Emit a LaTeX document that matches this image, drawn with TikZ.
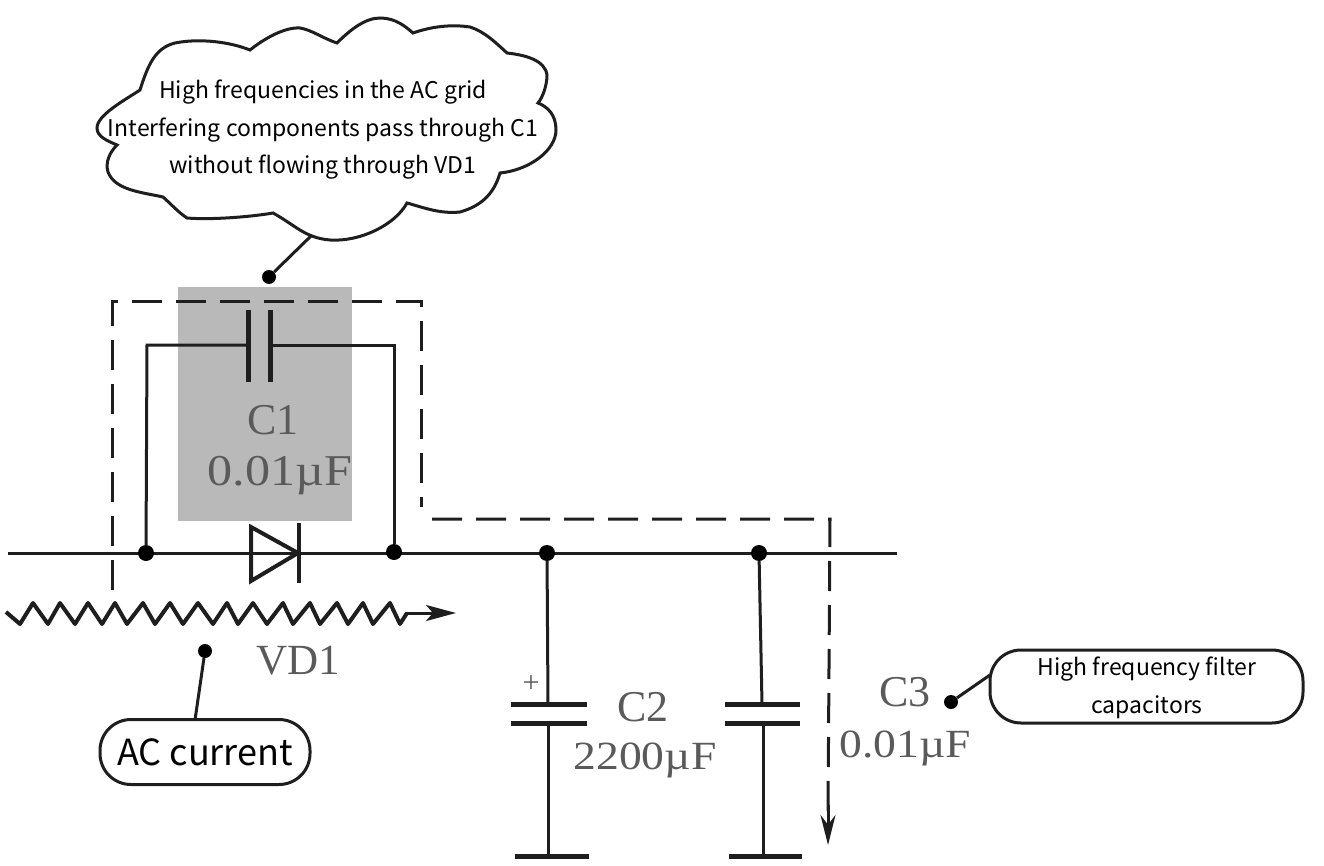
\documentclass[tikz,border=0pt]{standalone}
\usepackage{fontspec}
\setmainfont{Noto Sans CJK SC}
\newfontfamily\circfont{Liberation Serif}
\newfontfamily\circwide[FakeStretch=1.14]{Liberation Serif}
\usetikzlibrary{arrows.meta}
\definecolor{labelgray}{HTML}{5A5A5A}
\definecolor{shadegray}{HTML}{B9B9B9}
\definecolor{ink}{HTML}{1E1E1E}
\tikzset{
  wire/.style={draw=ink,line width=3pt},
  plate/.style={draw=ink,line width=5pt},
  junction/.style={circle,fill=black,inner sep=0pt,minimum size=16pt},
  smalldot/.style={circle,fill=black,inner sep=0pt,minimum size=14pt},
  leader/.style={draw=ink,line width=3pt},
  calloutbox/.style={draw=ink,line width=3pt,rounded corners=31pt,inner sep=0pt,align=center},
  circlabel/.style={text=labelgray,inner sep=0pt},
  route/.style={draw=ink,line width=3pt,dash pattern=on 30pt off 14pt},
  note/.style={font=\fontsize{23}{37.5}\selectfont,align=center,inner sep=0pt}
}
\newcommand{\lblsize}[1]{\circfont\fontsize{#1}{#1}\selectfont}
\newcommand{\valsize}[1]{\circwide\fontsize{#1}{#1}\selectfont}
\begin{document}
\begin{tikzpicture}[x=1pt,y=-1pt]
\useasboundingbox (0,0) rectangle (1324,866);
% shaded C1 area
\fill[shadegray] (178,287) rectangle (352,521);
% cloud
\draw[draw=ink,line width=3pt]
 (117,145) .. controls (108,141) and (97,137) .. (97,128)
 .. controls (97,115) and (125,100) .. (140,90)
 .. controls (148,65) and (155,48) .. (175,43)
 .. controls (200,38) and (230,42) .. (250,50)
 .. controls (265,38) and (285,27) .. (300,28)
 .. controls (312,30) and (322,38) .. (337,43)
 .. controls (350,30) and (365,18) .. (380,18)
 .. controls (395,18) and (405,26) .. (413,33)
 .. controls (430,27) and (450,24) .. (470,27)
 .. controls (485,32) and (495,42) .. (507,53)
 .. controls (525,55) and (545,60) .. (547,75)
 .. controls (547,85) and (543,97) .. (538,103)
 .. controls (548,107) and (556,115) .. (556,130)
 .. controls (556,150) and (530,170) .. (500,173)
 .. controls (495,190) and (485,205) .. (460,212)
 .. controls (440,214) and (425,208) .. (407,203)
 .. controls (395,225) and (360,242) .. (330,240)
 .. controls (305,238) and (295,225) .. (273,213)
 .. controls (250,217) and (210,220) .. (187,218)
 .. controls (178,212) and (172,205) .. (163,197)
 .. controls (140,192) and (115,190) .. (108,172)
 .. controls (105,162) and (110,152) .. (117,145) -- cycle;
\node[note] (cloudtext) at (323,130) {High frequencies in the AC grid\\Interfering components pass through C1\\without flowing through VD1};
\coordinate (cloudtail) at (312,235);
\node[smalldot] (clouddot) at (269,277) {};
\draw[leader] (cloudtail) -- (clouddot);
% dashed current route
\coordinate (routestart) at (112,590);
\coordinate (routeend) at (828,845);
\draw[route] (routestart) -- (112,302) -- (421,302) -- (421,507);
\draw[route] (432,519) -- (830,519) -- (828,815);
\draw[draw=ink,line width=3pt,-{Stealth[length=30pt,width=15pt]}] (828,805) -- (routeend);
% main wire
\coordinate (wireL) at (8,553);
\coordinate (wireR) at (897,553);
\draw[wire] (wireL) -- (wireR);
\node[junction] (j1) at (146,553) {};
\node[junction] (j2) at (394,552) {};
\node[junction] (j3) at (547,553) {};
\node[junction] (j4) at (759,553) {};
% C1
\coordinate (c1a) at (248,345);
\coordinate (c1b) at (270,345);
\draw[wire] (j1) -- (147,345) -- (c1a);
\draw[wire] (c1b) -- (394,345) -- (j2);
\draw[plate] (248,310) -- (248,382);
\draw[plate] (270,310) -- (270,382);
\node[circlabel,font=\lblsize{44}] (c1name) at (273,420) {C1};
\node[circlabel,font=\valsize{44}] (c1val) at (280,476) {0.01µF};
% diode
\draw[draw=ink,line width=4pt,line join=miter] (251,527) -- (251,581) -- (298,553) -- cycle;
\draw[draw=ink,line width=4pt] (299,523) -- (299,583);
\node[circlabel,font=\lblsize{43}] (vd1) at (298,661) {VD1};
% AC zigzag
\coordinate (zigstart) at (6,612);
\coordinate (zigend) at (456,613);
\draw[draw=ink,line width=4pt,line join=round] (zigstart) -- (20,624) -- (33,603) -- (48,624) -- (60,603) -- (75,624) -- (88,603) -- (102,624) -- (115,603) -- (127,624) -- (143,603) -- (155,624) -- (170,603) -- (183,624) -- (198,603) -- (213,624) -- (227,603) -- (238,624) -- (253,603) -- (267,624) -- (283,603) -- (293,624) -- (310,603) -- (320,624) -- (337,603) -- (348,624) -- (363,603) -- (373,624) -- (390,603) -- (400,624) -- (407,613);
\draw[draw=ink,line width=3pt,-{Stealth[length=30pt,width=16pt,inset=7pt]}] (405,613) -- (zigend);
% AC current callout
\node[calloutbox,minimum width=210pt,minimum height=65pt,font=\fontsize{36}{40}\selectfont] (acbox) at (205,752) {AC current};
\node[smalldot] (acdot) at (205,651) {};
\draw[leader] (acdot) -- (195,720);
% C2
\coordinate (c2top) at (548,704);
\coordinate (c2low) at (548,723);
\coordinate (c2gnd) at (548,856);
\draw[wire] (j3) -- (c2top);
\draw[wire] (c2low) -- (c2gnd);
\draw[plate] (511,704) -- (587,704);
\draw[plate] (511,723) -- (587,723);
\draw[plate] (515,856) -- (589,856);
\node[text=labelgray,font=\lblsize{30},inner sep=0pt] (plus) at (531,684) {+};
\node[circlabel,font=\lblsize{44}] (c2name) at (643,707) {C2};
\node[circlabel,font=\valsize{40}] (c2val) at (645,760) {2200µF};
% C3
\coordinate (c3top) at (762,704);
\coordinate (c3low) at (763,723);
\coordinate (c3gnd) at (763,856);
\draw[wire] (j4) -- (c3top);
\draw[wire] (c3low) -- (c3gnd);
\draw[plate] (725,704) -- (800,704);
\draw[plate] (725,723) -- (800,723);
\draw[plate] (729,856) -- (802,856);
\node[circlabel,font=\lblsize{44}] (c3name) at (905,692) {C3};
\node[circlabel,font=\valsize{40}] (c3val) at (905,748) {0.01µF};
% filter callout
\node[calloutbox,minimum width=313pt,minimum height=73pt] (hfbox) at (1146.5,686.5) {};
\node[note] (hftext) at (1147,688) {High frequency filter\\capacitors};
\node[smalldot] (hfdot) at (951,702) {};
\coordinate (hfbend) at (990,675);
\draw[leader] (hfdot) -- (hfbend);
\end{tikzpicture}
\end{document}
